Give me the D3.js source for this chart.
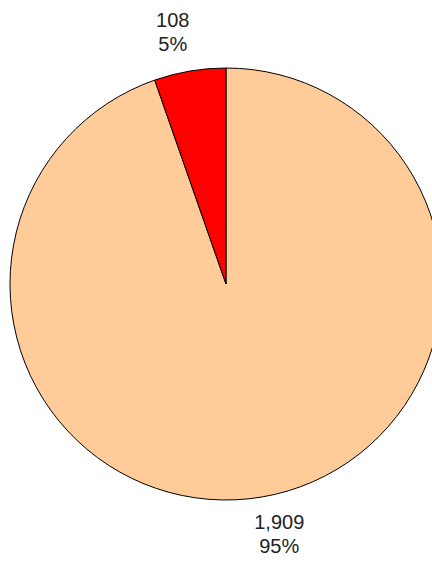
<!DOCTYPE html>
<html><head><meta charset="utf-8">
<script src="https://cdn.jsdelivr.net/npm/d3@7/dist/d3.min.js"></script>
<style>html,body{margin:0;padding:0;background:#fff;overflow:hidden}</style>
</head><body>
<script>
const categories = ["Other", "Selected"];
const values = [1909, 108];
const percentLabels = ["95%", "5%"];
const colors = ["#FFCC99", "#FF0000"];

const W = 432, H = 563;
const cx = 226, cy = 284, r = 216, labelRx = 318, labelRy = 255;
const svg = d3.select("body").append("svg").attr("width", W).attr("height", H);
const g = svg.append("g").attr("transform", `translate(${cx},${cy})`);

const pie = d3.pie().sort(null).value(d => d)(values);
const arc = d3.arc().innerRadius(0).outerRadius(r);
const color = d3.scaleOrdinal().domain(categories).range(colors);

g.selectAll("path").data(pie).join("path")
  .attr("d", arc)
  .attr("fill", (d, i) => color(categories[i]))
  .attr("stroke", "#000").attr("stroke-width", 1);

const fmt = d3.format(",");
const lab = g.selectAll("g.lab").data(pie).join("g").attr("class", "lab")
  .attr("transform", d => {
    const a = (d.startAngle + d.endAngle) / 2;
    return `translate(${labelRx * Math.sin(a)},${-labelRy * Math.cos(a)})`;
  });
lab.append("text").attr("text-anchor", "middle").attr("y", -6)
  .attr("font-family", "Liberation Sans, Arial, sans-serif").attr("font-size", 20).attr("fill", "#222")
  .text(d => fmt(d.value));
lab.append("text").attr("text-anchor", "middle").attr("y", 18)
  .attr("font-family", "Liberation Sans, Arial, sans-serif").attr("font-size", 20).attr("fill", "#222")
  .text((d, i) => percentLabels[i]);
</script>
</body></html>
